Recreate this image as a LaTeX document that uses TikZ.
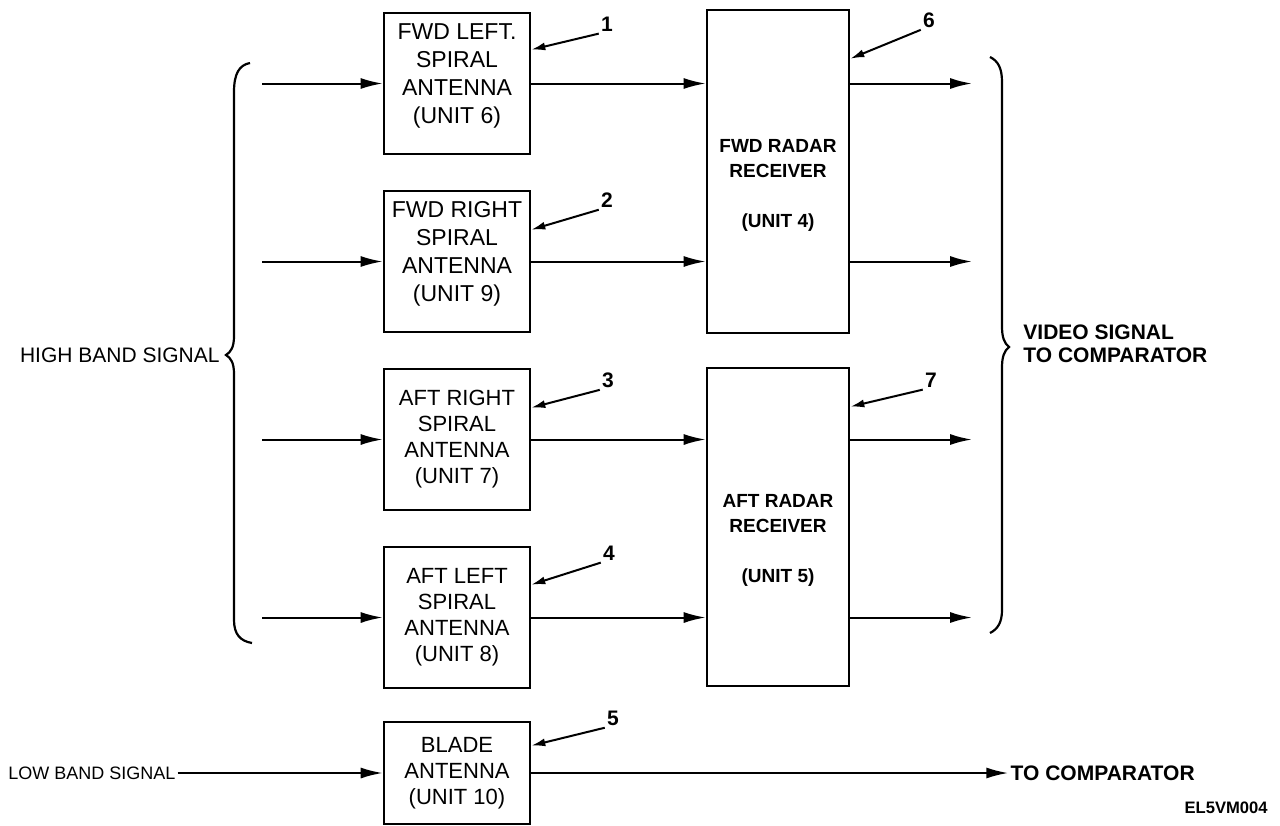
\documentclass[tikz,border=0pt]{standalone}
\usepackage{fontspec}
\setmainfont{Liberation Sans}
\usetikzlibrary{arrows.meta,positioning,calc}

\begin{document}
\begin{tikzpicture}[
    x=0.5pt, y=-0.5pt,
    node distance=17.2pt and 20pt,
    antbox/.style={rectangle, draw=black, line width=1.3pt, minimum width=73pt, minimum height=70.5pt, inner sep=0pt, align=center, font=\fontsize{11.5}{14}\selectfont},
    rcvbox/.style={rectangle, draw=black, line width=1.3pt, minimum width=71pt, inner sep=0pt, align=center, font=\bfseries\fontsize{9.5}{12.5}\selectfont},
    lbl/.style={font=\fontsize{10.5}{12}\selectfont, inner sep=1pt},
    boldlbl/.style={font=\bfseries\fontsize{10.5}{11.5}\selectfont, inner sep=1pt, align=left},
    num/.style={font=\bfseries\fontsize{10.5}{12}\selectfont, inner sep=1pt},
    sig/.style={-{Latex[length=11pt,width=5.5pt]}, line width=1pt},
    callout/.style={-{Latex[length=7pt,width=4pt]}, line width=1pt},
    brace/.style={line width=1.1pt}
]
    \useasboundingbox (0,0) rectangle (1280,825);

    % Antennas
    \node[antbox] (b1) at (457,83.5) {FWD LEFT.\\SPIRAL\\ANTENNA\\(UNIT 6)\\[-8pt]\strut};
    \node[antbox, below=of b1] (b2) {FWD RIGHT\\SPIRAL\\ANTENNA\\(UNIT 9)\\[-8pt]\strut};
    \node[antbox, below=of b2, font=\fontsize{11}{13}\selectfont] (b3) {AFT RIGHT\\SPIRAL\\ANTENNA\\(UNIT 7)};
    \node[antbox, below=of b3, font=\fontsize{11}{13}\selectfont] (b4) {AFT LEFT\\SPIRAL\\ANTENNA\\(UNIT 8)};
    \node[antbox, minimum height=51pt, below=15.7pt of b4, font=\fontsize{11}{13}\selectfont] (b5) {BLADE\\ANTENNA\\(UNIT 10)};

    % Receivers
    \node[rcvbox, minimum height=161.5pt] (fwd) at (778,171.5) {\strut\\[-1pt]FWD RADAR\\RECEIVER\\[12.5pt](UNIT 4)};
    \node[rcvbox, minimum height=159pt] (aft) at (778,527) {\strut\\[-1pt]AFT RADAR\\RECEIVER\\[12.5pt](UNIT 5)};

    % Free ends
    \coordinate (lin) at (262,0);
    \coordinate (rout) at (972,0);

    % Signal paths
    \foreach \b/\r in {b1/fwd, b2/fwd, b3/aft, b4/aft} {
        \draw[sig] (\b.west -| lin) -- (\b.west);
        \draw[sig] (\b.east) -- (\b.east -| \r.west);
        \draw[sig] (\b.east -| \r.east) -- (\b.east -| rout);
    }

    % Braces
    \draw[brace] (250,63) .. controls (239,65) and (234,74) .. (234,92)
        -- (234,336) .. controls (234,347) and (231,352) .. (226,355)
        .. controls (231,358) and (234,363) .. (234,374)
        -- (234,620) .. controls (234,634) and (240,641) .. (252,643);
    \coordinate (ltip) at (226,355);
    \draw[brace] (990,57) .. controls (998,61) and (1002,68) .. (1002,82)
        -- (1002,326) .. controls (1002,337) and (1004,343) .. (1009,347)
        .. controls (1004,351) and (1002,357) .. (1002,368)
        -- (1002,610) .. controls (1002,622) and (998,629) .. (990,633);
    \coordinate (rtip) at (1009,347);

    \node[lbl, left=2pt of ltip] (high) {HIGH BAND SIGNAL};
    \node[boldlbl, right=6pt of rtip, yshift=1.5pt] (video) {VIDEO SIGNAL\\TO COMPARATOR};

    % Low band
    \node[lbl, font=\fontsize{9}{11}\selectfont, left=102.5pt of b5.west] (low) {LOW BAND SIGNAL};
    \draw[sig] (low.east) -- (b5.west);
    \node[boldlbl, right=238.5pt of b5.east] (tocomp) {TO COMPARATOR};
    \draw[sig] (b5.east) -- (tocomp.west);
    \node[font=\bfseries\fontsize{8.3}{10}\selectfont, anchor=east, inner sep=0pt] (fig) at (1268,808) {EL5VM004};

    % Callouts
    \node[num] (n1) at (607,24) {1};
    \node[num] (n2) at (607,200) {2};
    \node[num] (n3) at (608,380) {3};
    \node[num] (n4) at (609,553) {4};
    \node[num] (n5) at (613,718) {5};
    \node[num] (n6) at (929,20) {6};
    \node[num] (n7) at (931,380) {7};
    \draw[callout] (n1.south west) -- ($(b1.north east)+(0,38)$);
    \draw[callout] (n2.south west) -- ($(b2.north east)+(0,40)$);
    \draw[callout] (n3.south west) -- ($(b3.north east)+(0,40)$);
    \draw[callout] (n4.south west) -- ($(b4.north east)+(0,39)$);
    \draw[callout] (n5.south west) -- ($(b5.north east)+(0,25)$);
    \draw[callout] (n6.south west) -- ($(fwd.north east)+(0,50)$);
    \draw[callout] (n7.south west) -- ($(aft.north east)+(0,40)$);
\end{tikzpicture}
\end{document}
